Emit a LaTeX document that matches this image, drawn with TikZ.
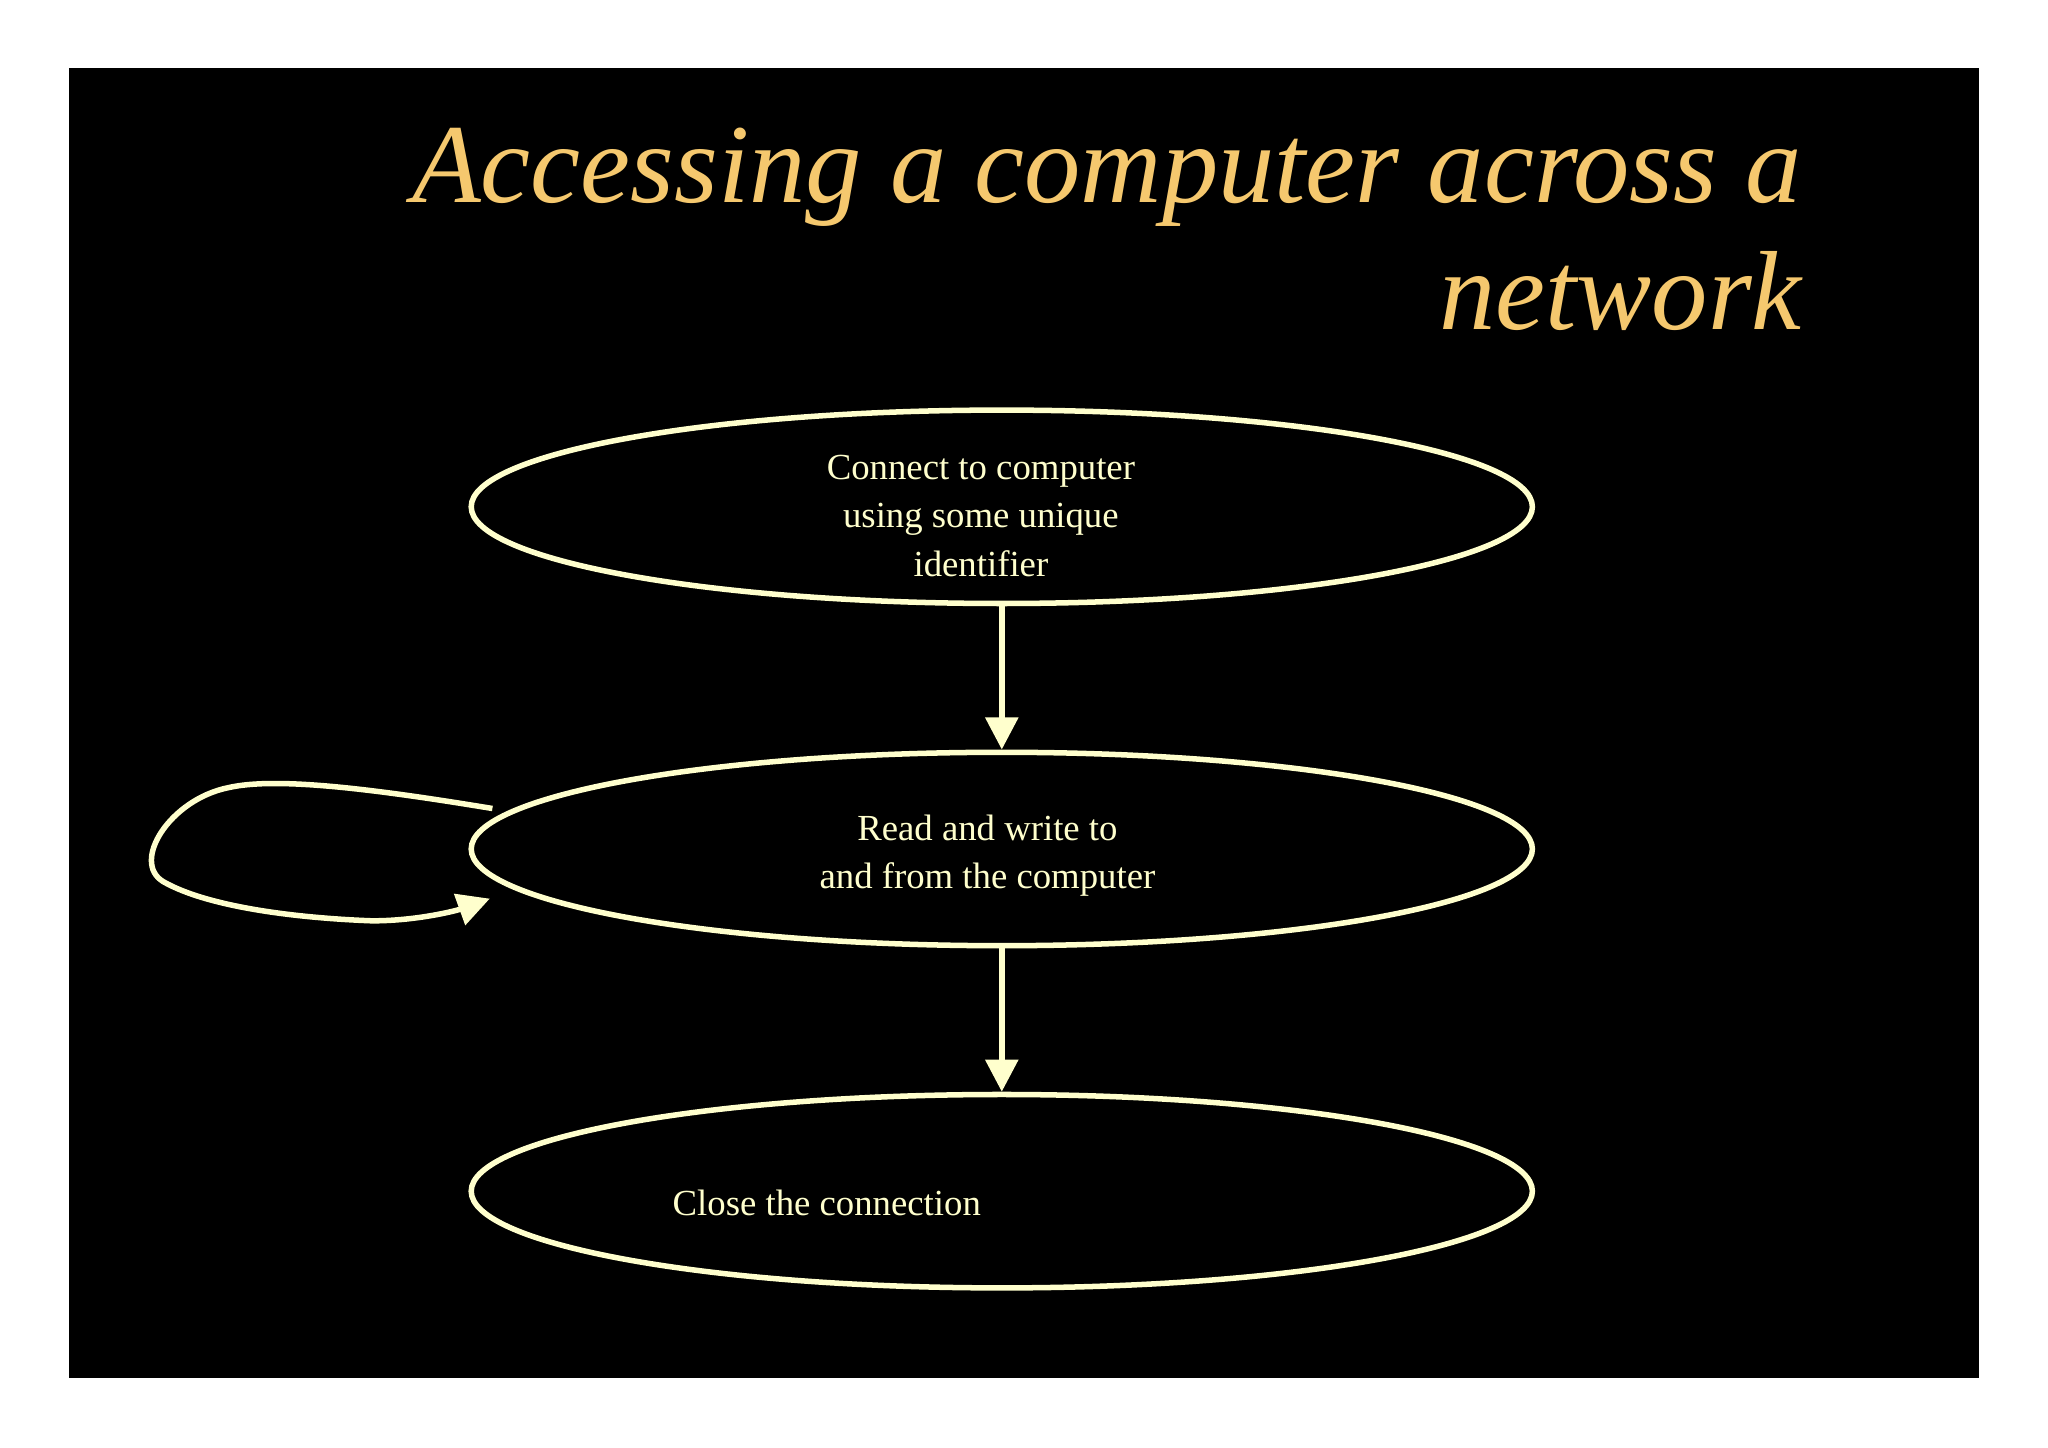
\documentclass[tikz,border=0pt]{standalone}
\usepackage{fontspec}
\setmainfont{Liberation Serif}
\usetikzlibrary{arrows.meta,shapes.geometric}
\definecolor{gold}{RGB}{245,200,110}
\definecolor{pale}{RGB}{255,255,205}
\begin{document}
\begin{tikzpicture}[x=0.01cm,y=-0.01cm,
  ell/.style={draw=pale,line width=1.2pt,ellipse,minimum width=812\pgflinewidth*0+8.12cm,minimum height=1.48cm,inner sep=0pt},
  txt/.style={text=pale,font=\fontsize{8}{10.5}\selectfont,align=center},
  arr/.style={draw=pale,line width=1.2pt,-{Triangle[length=7pt,width=7pt]}}]
\useasboundingbox (0,0) rectangle (1568,1108);
\fill[white] (0,0) rectangle (1568,1108);
\fill[black] (53,52) rectangle (1515,1055);
\node[anchor=base east,text=gold,font=\fontsize{24.5}{27.6}\selectfont\itshape,align=right] (title) at (1392,155) {Accessing a computer across a};
\node[anchor=base east,text=gold,font=\fontsize{24.5}{27.6}\selectfont\itshape] (title2) at (1392,252) {network};
\node[ell] (a) at (767,388) {};
\node[ell] (b) at (767,650) {};
\node[ell] (c) at (767,912) {};
\node[txt] (ta) at (751,395) {Connect to computer\\using some unique\\identifier};
\node[txt] (tb) at (756,655) {Read and write to\\and from the computer};
\node[txt] (tc) at (633,921) {Close the connection};
\draw[arr] (a.south) -- (b.north);
\draw[arr] (b.south) -- (c.north);
\coordinate (l1) at (377,619);
\coordinate (l2) at (375,688);
\draw[arr] (l1) .. controls (280,603) and (210,595) .. (175,603)
  .. controls (130,612) and (100,660) .. (125,675)
  .. controls (160,695) and (230,703) .. (285,705)
  .. controls (320,705) and (350,697) .. (l2);
\end{tikzpicture}
\end{document}
